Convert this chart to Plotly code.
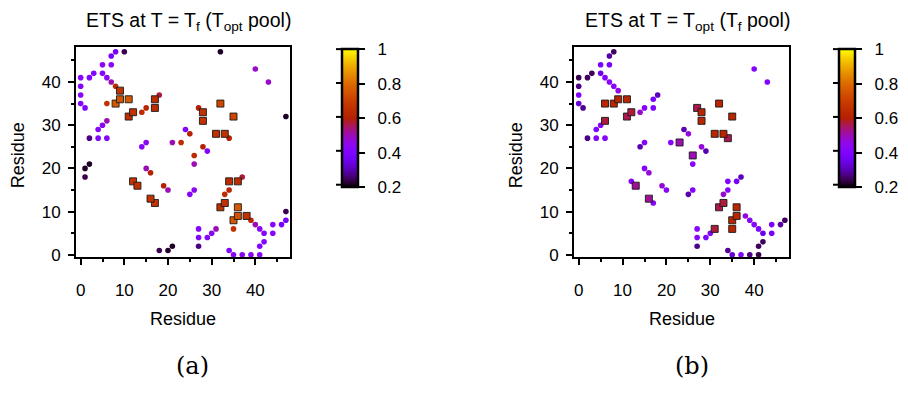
import math
import plotly.graph_objects as go

# ---------------- data (upper-triangle contact pairs, mirrored when drawn) ----------------
# Panel (a): ETS at T = T_f (T_opt pool)
a_i = [0, 0, 0, 0, 1, 2, 3, 5, 5, 7, 7, 8, 10, 6, 7, 8, 9, 8, 9, 11, 6, 11, 12, 14, 15, 17, 17, 18,
       6, 5, 4, 2, 4, 6, 14, 15, 1, 2, 1, 15, 16, 12, 13, 24, 25, 21, 23, 27, 28, 28, 32, 32, 40]
a_j = [41, 39, 37, 35, 34, 41, 42, 42, 44, 44, 46, 47, 47, 41, 40, 39, 38, 35, 36, 36, 35, 32, 33, 33, 34, 34, 36, 37,
       31, 30, 29, 27, 27, 27, 25, 26, 20, 21, 18, 20, 19, 17, 16, 29, 28, 26, 26, 34, 33, 31, 35, 47, 43]
a_val = [0.42, 0.42, 0.43, 0.42, 0.40, 0.40, 0.40, 0.42, 0.43, 0.43, 0.38, 0.37, 0.24, 0.43, 0.50,
         0.64, 0.66, 0.76, 0.75, 0.76, 0.66, 0.65, 0.66, 0.64, 0.62, 0.64, 0.64, 0.57, 0.50, 0.44,
         0.42, 0.27, 0.41, 0.42, 0.42, 0.43, 0.22, 0.22, 0.24, 0.50, 0.60, 0.67, 0.66, 0.40, 0.60,
         0.50, 0.64, 0.60, 0.66, 0.66, 0.72, 0.22, 0.48]
a_sq = [0, 0, 0, 0, 0, 0, 0, 0, 0, 0, 0, 0, 0, 0, 0, 0, 1, 1, 1, 1, 0, 1, 1, 0, 0, 1, 1, 0,
        0, 0, 0, 0, 0, 0, 0, 0, 0, 0, 0, 0, 0, 1, 1, 0, 0, 0, 0, 0, 1, 1, 1, 0, 0]

# Panel (b): ETS at T = T_opt (T_f pool)
b_i = [0, 0, 0, 0, 1, 2, 3, 5, 5, 7, 7, 8, 6, 7, 8, 9, 8, 9, 11, 6, 11, 12, 14, 15, 17, 17, 18,
       6, 5, 4, 2, 4, 6, 14, 15, 15, 16, 12, 13, 24, 25, 21, 23, 27, 28, 28, 32, 40]
b_j = [41, 39, 37, 35, 34, 41, 42, 42, 44, 44, 46, 47, 41, 40, 39, 38, 35, 36, 36, 35, 32, 33, 33, 34, 34, 36, 37,
       31, 30, 29, 27, 27, 27, 25, 26, 20, 19, 17, 16, 29, 28, 26, 26, 34, 33, 31, 35, 43]
b_val = [0.24, 0.27, 0.40, 0.33, 0.28, 0.25, 0.25, 0.35, 0.38, 0.38, 0.29, 0.25, 0.40, 0.42, 0.42,
         0.46, 0.62, 0.62, 0.62, 0.62, 0.56, 0.57, 0.48, 0.42, 0.40, 0.38, 0.31, 0.57, 0.42, 0.40,
         0.27, 0.42, 0.42, 0.30, 0.40, 0.42, 0.47, 0.42, 0.52, 0.30, 0.47, 0.42, 0.50, 0.56, 0.62,
         0.62, 0.62, 0.41]
b_sq = [0, 0, 0, 0, 0, 0, 0, 0, 0, 0, 0, 0, 0, 0, 0, 0, 1, 1, 1, 1, 1, 1, 0, 0, 0, 0, 0,
        1, 0, 0, 0, 0, 0, 0, 0, 0, 0, 0, 1, 0, 0, 0, 1, 1, 1, 1, 1, 0]

titles = ["ETS at T = T<sub>f</sub> (T<sub>opt</sub> pool)",
          "ETS at T = T<sub>opt</sub> (T<sub>f</sub> pool)"]
panel_labels = ["(a)", "(b)"]
axis_ticks = [0, 10, 20, 30, 40]
cb_ticks = [0.2, 0.4, 0.6, 0.8, 1.0]
cb_labels = ["0.2", "0.4", "0.6", "0.8", "1"]
cmin, cmax = 0.2, 1.0

# ---------------- style ----------------
W, H = 908, 400
FONT = "Liberation Sans, Arial, sans-serif"
NB = "\u00a0\u00a0"


def gnuplot_scale(n=24):
    stops = []
    for k in range(n + 1):
        t = k / n
        r = math.sqrt(t)
        g = t ** 3
        b = max(0.0, math.sin(2 * math.pi * t))
        stops.append([t, "rgb(%d,%d,%d)" % (round(r * 255), round(g * 255), round(b * 255))])
    return stops


CS = gnuplot_scale()

# pixel geometry of the two panels
panels = [dict(x0=76, x1=290, cb=342, tx=188, lx=192),
          dict(x0=574, x1=789, cb=839, tx=687, lx=692)]
Y0, Y1 = 48, 262
CB_TOP, CB_BOT, CB_W = 50, 188, 16

fig = go.Figure()
data = [(a_i, a_j, a_val, a_sq), (b_i, b_j, b_val, b_sq)]

for p, (ii, jj, vv, sq) in enumerate(data):
    xa = "x" if p == 0 else "x2"
    ya = "y" if p == 0 else "y2"
    ca = "coloraxis" if p == 0 else "coloraxis2"
    for shape in (0, 1):
        xs, ys, cs = [], [], []
        for i, j, v, s in zip(ii, jj, vv, sq):
            if s != shape:
                continue
            xs += [i, j]
            ys += [j, i]
            cs += [v, v]
        if shape == 0:
            marker = dict(symbol="circle", size=5.6, color=cs, coloraxis=ca, line=dict(width=0))
        else:
            marker = dict(symbol="square", size=7, color=cs, coloraxis=ca,
                          line=dict(width=0.9, color="#1a1a1a"))
        fig.add_trace(go.Scatter(x=xs, y=ys, mode="markers", marker=marker,
                                 xaxis=xa, yaxis=ya, showlegend=False, hoverinfo="x+y"))

axis_common = dict(
    showgrid=False, zeroline=False, showline=True, linewidth=2, linecolor="black", mirror=True,
    ticks="outside", ticklen=6, tickwidth=1.5, tickcolor="black",
    tickvals=axis_ticks, ticktext=[str(t) for t in axis_ticks],
    tickfont=dict(family=FONT, size=17, color="black"),
    minor=dict(tickvals=[5, 15, 25, 35, 45], ticks="outside", ticklen=3, tickwidth=1.5,
               tickcolor="black", showgrid=False),
)

layout = dict(
    width=W, height=H, margin=dict(l=0, r=0, t=0, b=0),
    paper_bgcolor="white", plot_bgcolor="white",
    font=dict(family=FONT, color="black"),
    showlegend=False,
)
for p, pn in enumerate(panels):
    sx = "" if p == 0 else "2"
    layout["xaxis" + sx] = dict(axis_common, domain=[pn["x0"] / W, pn["x1"] / W],
                                range=[-1.07, 47.94], anchor="y" + sx, ticklabelstandoff=10)
    layout["yaxis" + sx] = dict(axis_common, domain=[1 - Y1 / H, 1 - Y0 / H],
                                range=[-0.6, 48.06], anchor="x" + sx, ticklabelstandoff=4)
    layout["coloraxis" + sx] = dict(
        cmin=cmin, cmax=cmax, colorscale=CS,
        colorbar=dict(
            x=pn["cb"] / W, xanchor="left", xpad=0, ypad=0,
            y=1 - CB_TOP / H, yanchor="top", len=CB_BOT - CB_TOP, lenmode="pixels",
            thickness=CB_W, thicknessmode="pixels",
            outlinewidth=2.5, outlinecolor="black",
            tickvals=cb_ticks, ticktext=[NB + t for t in cb_labels], ticks="outside", ticklen=6,
            tickwidth=2, tickcolor="black",
            tickfont=dict(family=FONT, size=17, color="black"),
        ),
    )
fig.update_layout(**layout)

annotations = []
shapes = []
for p, pn in enumerate(panels):
    annotations.append(dict(text=titles[p], x=pn["tx"] / W, y=1 - 22 / H, xref="paper", yref="paper",
                            xanchor="center", yanchor="middle", showarrow=False,
                            font=dict(family=FONT, size=19.5, color="black")))
    annotations.append(dict(text="Residue", x=(pn["x0"] + pn["x1"]) / 2 / W, y=1 - 325 / H,
                            xref="paper", yref="paper", xanchor="center", yanchor="middle",
                            showarrow=False, font=dict(family=FONT, size=18, color="black")))
    annotations.append(dict(text="Residue", x=(pn["x0"] - 58) / W, y=1 - 158 / H, textangle=-90,
                            xref="paper", yref="paper", xanchor="center", yanchor="middle",
                            showarrow=False, font=dict(family=FONT, size=18, color="black")))
    annotations.append(dict(text=panel_labels[p], x=pn["lx"] / W, y=1 - 373 / H,
                            xref="paper", yref="paper", xanchor="center", yanchor="middle",
                            showarrow=False,
                            font=dict(family="DejaVu Serif, serif", size=24, color="black")))
    # left-hand colorbar ticks (gnuplot draws ticks on both sides of the box)
    for v in cb_ticks:
        ypx = CB_TOP + (cmax - v) / (cmax - cmin) * (CB_BOT - CB_TOP)
        shapes.append(dict(type="line", xref="paper", yref="paper",
                           x0=(pn["cb"] - 6) / W, x1=pn["cb"] / W,
                           y0=1 - ypx / H, y1=1 - ypx / H,
                           line=dict(color="black", width=2)))
fig.update_layout(annotations=annotations, shapes=shapes)

fig.write_html("out.html")
